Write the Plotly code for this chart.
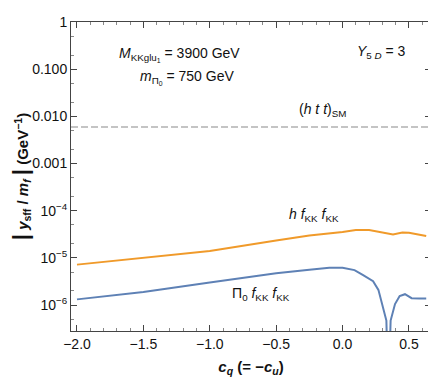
import plotly.graph_objects as go

# h f_KK f_KK coupling
cq_h = [-2.0, -1.5, -1.0, -0.5, -0.25, 0.0, 0.1, 0.2, 0.25, 0.3, 0.38, 0.45, 0.5, 0.63]
y_h = [7.2e-6, 1.0e-5, 1.4e-5, 2.35e-5, 3.0e-5, 3.55e-5, 3.9e-5, 3.9e-5, 3.7e-5,
       3.4e-5, 3.15e-5, 3.45e-5, 3.4e-5, 2.9e-5]

# Pi_0 f_KK f_KK coupling
cq_pi = [-2.0, -1.5, -1.0, -0.5, -0.25, -0.1, 0.0, 0.09, 0.155, 0.23, 0.27, 0.30, 0.33,
         0.345, 0.362, 0.395, 0.43, 0.47, 0.52, 0.58, 0.63]
y_pi = [1.32e-6, 1.9e-6, 3.0e-6, 4.7e-6, 5.6e-6, 6.2e-6, 6.2e-6, 5.5e-6, 4.3e-6, 3.2e-6,
        2.1e-6, 1.05e-6, 4.7e-7, 1e-8, 4.7e-7, 1.05e-6, 1.55e-6, 1.7e-6, 1.4e-6, 1.38e-6, 1.38e-6]

htt_sm = 0.006

y_tickvals = [1, 0.1, 0.01, 0.001, 1e-4, 1e-5, 1e-6]
y_ticktext = ["1", "0.100", "0.010", "0.001", "10<sup>−4</sup>", "10<sup>−5</sup>", "10<sup>−6</sup>"]
x_tickvals = [-2.0, -1.5, -1.0, -0.5, 0.0, 0.5]
x_ticktext = ["−2.0", "−1.5", "−1.0", "−0.5", "0.0", "0.5"]

BLUE = "#5E81B5"
ORANGE = "#F09A2A"

fig = go.Figure()
fig.add_trace(go.Scatter(x=cq_h, y=y_h, mode="lines", line=dict(color=ORANGE, width=2)))
fig.add_trace(go.Scatter(x=cq_pi, y=y_pi, mode="lines", line=dict(color=BLUE, width=2)))
fig.add_hline(y=htt_sm, line=dict(color="#C4C4C4", width=2, dash="7px,3px"))

font = dict(family="Liberation Sans, Arial, sans-serif", size=14, color="#111111")


def note(x, y, text):
    fig.add_annotation(x=x, y=y, xref="x", yref="y", text=text, showarrow=False,
                       xanchor="left", yanchor="middle", font=font)


note(-1.70, -0.69, "<i>M</i><sub>KKglu<sub>1</sub></sub> = 3900 GeV")
note(-1.54, -1.18, "<i>m</i><sub>Π<sub>0</sub></sub> = 750 GeV")
note(0.09, -0.63, "<i>Y</i><sub>5 <i>D</i></sub> = 3")
note(-0.34, -1.86, "(<i>h t t</i>)<sub>SM</sub>")
note(-0.42, -4.10, "<i>h f</i><sub>KK</sub> <i>f</i><sub>KK</sub>")
note(-0.85, -5.77, "Π<sub>0</sub> <i>f</i><sub>KK</sub> <i>f</i><sub>KK</sub>")

# the page body adds an 8px offset, so margins are shifted to compensate
fig.update_layout(
    width=436,
    height=382,
    showlegend=False,
    margin=dict(l=63, r=13, t=6, b=59),
    paper_bgcolor="white",
    plot_bgcolor="white",
    font=font,
)
fig.update_xaxes(
    range=[-2.045, 0.666],
    tickvals=x_tickvals,
    ticktext=x_ticktext,
    ticks="inside",
    ticklen=6,
    tickcolor="#444444",
    minor=dict(ticks="inside", ticklen=3, dtick=0.1, tick0=0, tickcolor="#888888"),
    showgrid=False,
    zeroline=False,
    showline=True,
    linecolor="#444444",
    mirror="allticks",
    tickfont=dict(size=14),
    title=dict(text="<b><i>c</i><sub><i>q</i></sub> (= −<i>c</i><sub><i>u</i></sub>)</b>",
               font=dict(size=15), standoff=10),
)
fig.update_yaxes(
    type="log",
    range=[-6.55, 0.002],
    tickvals=y_tickvals,
    ticktext=y_ticktext,
    ticks="inside",
    ticklen=6,
    tickcolor="#444444",
    minor=dict(ticks="inside", ticklen=3, tickcolor="#888888"),
    showgrid=False,
    zeroline=False,
    showline=True,
    linecolor="#444444",
    mirror="allticks",
    ticklabeloverflow="allow",
    tickfont=dict(size=14),
    title=dict(text="<b><span style='font-size:22px'>|</span> <i>y</i><sub>sff</sub> / <i>m</i><sub><i>f</i></sub> <span style='font-size:22px'>|</span> (GeV<sup>−1</sup>)</b>",
               font=dict(size=15), standoff=6),
)

fig.write_html("out.html")
